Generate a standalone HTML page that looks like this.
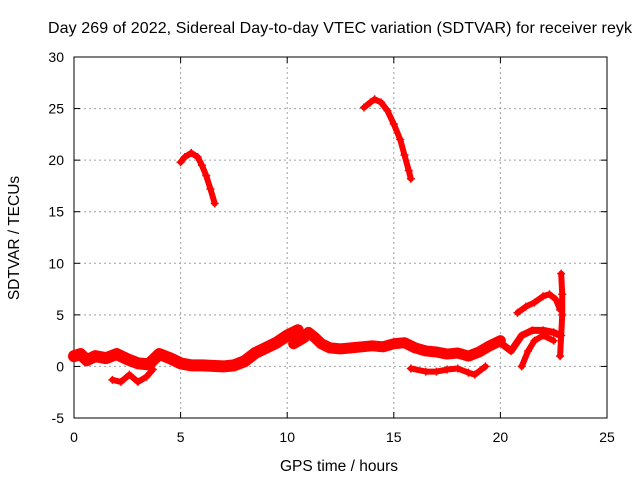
<!DOCTYPE html>
<html><head><meta charset="utf-8"><style>
body{margin:0;background:#fff}
svg{display:block;font-family:"Liberation Sans",sans-serif}
</style></head><body>
<svg id="chart" width="640" height="480">
<text x="340" y="33" font-size="16" text-anchor="middle" textLength="584">Day 269 of 2022, Sidereal Day-to-day VTEC variation (SDTVAR) for receiver reyk</text>
<text x="339" y="471" font-size="15.5" text-anchor="middle">GPS time / hours</text>
<text transform="translate(19,238) rotate(-90)" font-size="15.5" text-anchor="middle">SDTVAR / TECUs</text>
<g id="grid"></g><g id="axes"></g><g id="marks"></g>
</svg>
<script>
const xTicks=[0,5,10,15,20,25];
const yTicks=[-5,0,5,10,15,20,25,30];
const segA_t=[0,0.3,0.6,1,1.5,2,2.5,3,3.5,4,4.5,5,5.5,6,7,7.5,8,8.5,9,9.5,10,10.5];
const segA_v=[1,1.2,0.6,1,0.8,1.2,0.7,0.3,0.2,1.2,0.8,0.3,0.1,0.1,0,0.1,0.5,1.3,1.8,2.3,3,3.5];
const segB_t=[10.3,10.8,11,11.3,11.6,12,12.5,13,13.5,14,14.5,15,15.5,16,16.5,17,17.5,18,18.5,19,19.5,20];
const segB_v=[2.2,2.8,3.3,2.8,2.2,1.8,1.7,1.8,1.9,2,1.9,2.2,2.3,1.8,1.5,1.4,1.2,1.3,1.0,1.4,2,2.5];
const segD_t=[1.8,2.2,2.6,3,3.4,3.7];
const segD_v=[-1.3,-1.5,-0.8,-1.5,-1.0,-0.3];
const segE_t=[15.8,16.5,17,17.5,18,18.5,18.8,19.3];
const segE_v=[-0.2,-0.5,-0.5,-0.3,-0.2,-0.6,-0.8,0];
const segF_t=[20,20.5,21,21.5,22,22.5,22.8];
const segF_v=[2.3,1.5,3,3.5,3.5,3.3,3];
const segG_t=[21,21.3,21.6,22,22.5];
const segG_v=[0,1.5,2.5,3,2.5];
const segH_t=[20.8,21.2,21.6,22,22.3,22.6,22.8];
const segH_v=[5.2,5.8,6.2,6.8,7.0,6.5,5.5];
const segI_t=[22.8,22.85,22.9,22.9,22.85];
const segI_v=[1,3,5,7,9];
const segJ_t=[5,5.2,5.5,5.8,6,6.2,6.4,6.6];
const segJ_v=[19.8,20.3,20.7,20.3,19.5,18.5,17.2,15.8];
const segK_t=[13.6,13.9,14.1,14.4,14.7,15,15.3,15.5,15.7,15.8];
const segK_v=[25.1,25.6,25.9,25.6,24.8,23.5,22,20.5,19,18.2];
const X0=74,X1=607,Y0=418,Y1=57;
const sx=t=>X0+(t-0)/25*(X1-X0);
const sy=v=>Y0-(v+5)/35*(Y0-Y1);
const NS="http://www.w3.org/2000/svg";
function mk(tag,attrs,parent){const e=document.createElementNS(NS,tag);for(const k in attrs)e.setAttribute(k,attrs[k]);parent.appendChild(e);return e;}
const grid=document.getElementById('grid'),axes=document.getElementById('axes'),marks=document.getElementById('marks');
xTicks.forEach(t=>{
 const x=sx(t);
 if(t>0&&t<25){const l=mk('line',{x1:x,x2:x,y1:Y1,y2:Y0,stroke:'#a0a0a0','stroke-dasharray':'2,3'},grid);
 
 }
 mk('line',{x1:x,x2:x,y1:Y0,y2:Y0-6,stroke:'#000'},axes);
 mk('line',{x1:x,x2:x,y1:Y1,y2:Y1+6,stroke:'#000'},axes);
 const tx=mk('text',{x:x,y:Y0+24,'font-size':14,'text-anchor':'middle'},axes);tx.textContent=t;
 
 
});
yTicks.forEach(v=>{
 const y=sy(v);
 if(v>-5&&v<30){const l=mk('line',{x1:X0,x2:X1,y1:y,y2:y,stroke:'#a0a0a0','stroke-dasharray':'2,3'},grid);
 
 }
 mk('line',{x1:X0,x2:X0+6,y1:y,y2:y,stroke:'#000'},axes);
 mk('line',{x1:X1,x2:X1-6,y1:y,y2:y,stroke:'#000'},axes);
 const tx=mk('text',{x:X0-10,y:y+5,'font-size':14,'text-anchor':'end'},axes);tx.textContent=v;
 
 
});
const fr=mk('rect',{x:X0,y:Y1,width:X1-X0,height:Y0-Y1,fill:'none',stroke:'#000'},axes);


function series(ts,vs,w,name){
 const pts=ts.map((t,i)=>sx(t)+','+sy(vs[i])).join(' ');
 const p=mk('polyline',{points:pts,fill:'none',stroke:'#f00','stroke-width':w,'stroke-linejoin':'round','stroke-linecap':'round'},marks);
 
 
 ts.forEach((t,i)=>{const x=sx(t),y=sy(vs[i]);
  mk('path',{d:`M${x-4},${y}h8M${x},${y-4}v8`,stroke:'#f00','stroke-width':1.5},marks);});
}
series(segA_t,segA_v,12,'series-band-early');
series(segB_t,segB_v,11,'series-band-late');
series(segD_t,segD_v,6,'series-low-early');
series(segE_t,segE_v,6,'series-low-late');
series(segF_t,segF_v,7,'series-end-mid');
series(segG_t,segG_v,6,'series-end-rise');
series(segH_t,segH_v,6,'series-end-high');
series(segI_t,segI_v,6,'series-end-vertical');
series(segJ_t,segJ_v,6,'series-arc-1');
series(segK_t,segK_v,6,'series-arc-2');
</script>
</body></html>
